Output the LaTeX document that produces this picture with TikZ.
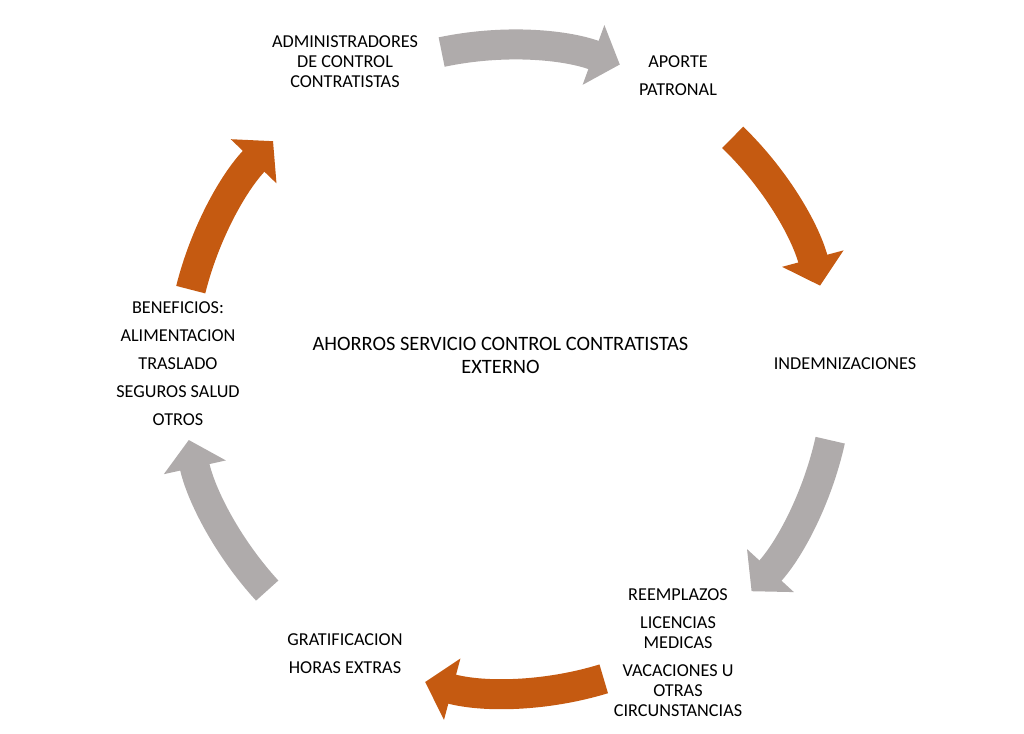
\documentclass[tikz,border=0pt]{standalone}
\usepackage{fontspec}
\setmainfont{Carlito}
\usetikzlibrary{arrows.meta}
\definecolor{grisflecha}{HTML}{AFABAB}
\definecolor{naranjo}{HTML}{C55A11}
\begin{document}
\begin{tikzpicture}[x=1pt,y=1pt,
	etiqueta/.style={align=center,font=\fontsize{18.2}{20}\selectfont,inner sep=0pt},
	flecha/.style={line width=30pt,-{Triangle[width=62pt,length=28pt]}},
	gris/.style={flecha,draw=grisflecha},
	naranja/.style={flecha,draw=naranjo}]
				\useasboundingbox (0,0) rectangle (1024,733);
				\coordinate (c) at (509,364);
				\node[etiqueta] (admin) at (345,671) {ADMINISTRADORES\\DE CONTROL\\CONTRATISTAS};
				\node[etiqueta] (aporte) at (678,657) {APORTE\\[8pt]PATRONAL};
				\node[etiqueta] (indem) at (845,369) {INDEMNIZACIONES};
				\node[etiqueta] (reemp) at (678,80.5) {REEMPLAZOS\\[8pt]LICENCIAS\\MEDICAS\\[8pt]VACACIONES U\\OTRAS\\CIRCUNSTANCIAS};
				\node[etiqueta] (grat) at (345,79.5) {GRATIFICACION\\[8pt]HORAS EXTRAS};
				\node[etiqueta] (benef) at (178,369) {BENEFICIOS:\\[8pt]ALIMENTACION\\[8pt]TRASLADO\\[8pt]SEGUROS SALUD\\[8pt]OTROS};
				\node[etiqueta,font=\fontsize{20.4}{23}\selectfont] (ahorro) at (500.5,377.5) {AHORROS SERVICIO CONTROL CONTRATISTAS\\EXTERNO};
				\draw[gris] ([shift={(102:324pt)}]c) arc (102:70:324pt);
				\draw[naranja] ([shift={(46:322pt)}]c) arc (46:15:322pt);
				\draw[gris] ([shift={(-12.5:329pt)}]c) arc (-12.5:-42.5:329pt);
				\draw[naranja] ([shift={(-73:324pt)}]c) arc (-73:-105:324pt);
				\draw[gris] ([shift={(-137.5:328pt)}]c) arc (-137.5:-167.5:328pt);
				\draw[naranja] ([shift={(166:328pt)}]c) arc (166:136:328pt);
\end{tikzpicture}
\end{document}
